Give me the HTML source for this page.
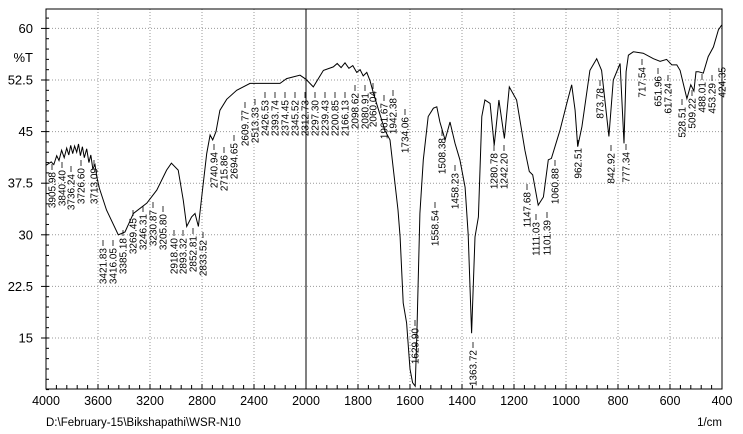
<!DOCTYPE html>
<html><head><meta charset="utf-8"><style>
body{margin:0;background:#fff}
svg{display:block;font-family:"Liberation Sans",Arial,sans-serif}
</style></head><body>
<svg id="chart" width="743" height="434" viewBox="0 0 743 434">
<g id="grid"></g>
<g id="axes"></g>
<g id="series"></g>
<g id="labels"></g>
<text x="33" y="62" font-size="13" text-anchor="end">%T</text>
<text x="46" y="426" font-size="11.5">D:\February-15\Bikshapathi\WSR-N10</text>
<text x="722" y="426" font-size="11.5" text-anchor="end">1/cm</text>
</svg>
<script>
const xTicks=[4000,3600,3200,2800,2400,2000,1800,1600,1400,1200,1000,800,600,400];
const yTicks=[60,52.5,45,37.5,30,22.5,15];
const yTickLabels=["60","52.5","45","37.5","30","22.5","15"];
const waves=[4000,3960,3940,3918,3900,3880,3860,3841,3825,3810,3795,3780,3764,3750,3735,3720,3705,3687,3670,3655,3640,3623,3610,3590,3535,3444,3392,3328,3225,3148,3072,3035,2983,2944,2918,2880,2854,2828,2802,2764,2738,2718,2692,2662,2610,2533,2431,2354,2200,2149,2046,2000,1972,1933,1895,1880,1865,1850,1835,1820,1805,1792,1780,1766,1754,1740,1697,1677,1646,1638,1626,1613,1600,1590,1580,1574,1562,1549,1530,1510,1497,1485,1465,1446,1427,1408,1388,1376,1363,1350,1337,1324,1312,1292,1276,1258,1237,1218,1190,1158,1141,1128,1107,1087,1068,1056,1023,997,978,965,955,939,908,882,863,835,818,792,777,769,760,741,703,664,638,613,593,574,561,535,520,508,500,491,472,453,433,414,401];
const trans=[40.1,40.6,40.2,41.5,40.8,42.3,41.2,42.6,41.6,43.0,41.8,42.9,42.0,43.2,41.5,42.8,41.2,42.5,40.5,41.6,39.6,40.2,38.5,36.8,33.6,30.0,30.4,33.1,34.6,36.5,39.4,40.4,39.4,35.0,31.2,32.6,33.1,31.2,35.5,41.8,44.5,43.8,45.0,48.1,49.7,51.0,52.0,52.0,52.0,52.7,53.2,52.6,51.5,53.9,54.4,54.9,54.3,55.0,54.2,54.6,53.6,54.0,53.1,53.6,52.4,50.5,45.2,43.8,33.6,29.7,20.1,17.2,10.5,8.5,8.0,15.2,33.1,40.9,47.2,48.4,48.6,46.4,43.8,46.4,43.3,40.9,36.9,30,15.7,29.7,32.6,47.2,49.6,49.1,43.0,49.6,44.0,51.5,49.6,42.3,39.2,38.7,34.3,35.5,40.9,41.1,45.2,49.1,51.8,48.1,42.8,45.7,53.9,55.6,53.9,44.3,52.5,54.9,43.3,53.7,56.1,56.6,56.4,55.6,55.2,55.5,54.7,54.7,53.9,49.8,51.8,50.9,53.7,53.7,53.5,55.9,57.3,59.8,60.5];
const peakNames=["3905.98","3840.40","3736.24","3726.60","3713.09","3421.83","3416.05","3385.18","3269.45","3246.31","3230.87","3205.80","2918.40","2893.32","2852.81","2833.52","2740.94","2715.86","2694.65","2609.77","2513.33","2426.53","2393.74","2374.45","2345.52","2312.73","2297.30","2239.43","2200.85","2166.13","2098.62","2080.91","2060.04","1961.67","1942.38","1734.06","1629.90","1558.54","1508.38","1458.23","1363.72","1280.78","1242.20","1147.68","1111.03","1101.39","1060.88","962.51","873.78","842.92","777.34","717.54","651.96","617.24","528.51","509.22","488.01","453.29","424.35"];
const peakTextX=[52,62,71,81,94,103,113,123,133,143,153,163,174,183,193,203,214,224,234,245,255,265,275,285,295,305,315,325,335,345,355,365,373,384,393,405,415,435,442,455,473,494,504,527,536,547,555,578,600,611,626,642,658,668,682,692,702,712,722];
const peakTextTop=[172,170,174,168,168,248,248,238,218,214,210,214,238,238,236,240,152,155,143,110,107,100,100,100,100,100,100,100,100,100,93,93,91,103,98,117,328,210,138,173,350,153,153,192,222,220,168,148,88,153,152,67,76,83,107,98,82,83,67];
const L=46,R=722,T=9,B=389;
function xs(w){return w>=2000?L+(4000-w)/400*52:306+(2000-w)/200*52;}
function ys(v){return 338-(v-15)/7.5*51.6;}
const NS="http://www.w3.org/2000/svg";
function mk(tag,attrs,parent){const e=document.createElementNS(NS,tag);for(const k in attrs)e.setAttribute(k,attrs[k]);parent.appendChild(e);return e;}
const grid=document.getElementById('grid'),axes=document.getElementById('axes'),series=document.getElementById('series'),labels=document.getElementById('labels');
xTicks.forEach((w,i)=>{const x=xs(w);
 if(i>0&&i<xTicks.length-1){const g=mk('line',{x1:x,x2:x,y1:T,y2:B,stroke:w===2000?'#000':'#999','stroke-width':1,'stroke-dasharray':w===2000?'none':'1,2'},grid);
 
 }
 const t=mk('text',{x:x,y:405,'font-size':12.5,'text-anchor':'middle'},axes);t.textContent=w;
 
 
 if(i<xTicks.length-1){const n=xTicks[i+1];for(let k=0;k<5;k++){const wx=w+(n-w)*k/5;const xx=xs(wx);mk('line',{x1:xx,x2:xx,y1:B,y2:B-(k==0?5:4),stroke:'#000'},axes);}}
});
yTicks.forEach((v,i)=>{const y=ys(v);
 const g=mk('line',{x1:L,x2:R,y1:y,y2:y,stroke:'#999','stroke-dasharray':'1,2'},grid);
 
 
 mk('line',{x1:L-5,x2:L,y1:y,y2:y,stroke:'#000'},axes);
 const t=mk('text',{x:33,y:y+4.5,'font-size':13,'text-anchor':'end'},axes);t.textContent=yTickLabels[i];
 
 
});
for(let v=7.5;v<62.8;v+=1.5){const y=ys(v);mk('line',{x1:L,x2:L+3,y1:y,y2:y,stroke:'#000'},axes);}
const fr=mk('rect',{x:L,y:T,width:R-L,height:B-T,fill:'none',stroke:'#000','stroke-width':1},axes);


const cp=mk('clipPath',{id:'cp'},series);
mk('rect',{x:L,y:T,width:R-L,height:B-T},cp);
let d='';waves.forEach((w,i)=>{d+=(i?'L':'M')+xs(w).toFixed(1)+','+ys(trans[i]).toFixed(1);});
const p=mk('path',{d:d,fill:'none',stroke:'#000','stroke-width':1,'clip-path':'url(#cp)'},series);


peakNames.forEach((nm,i)=>{const x=peakTextX[i],top=peakTextTop[i];
 const t=mk('text',{x:0,y:0,'font-size':10,'text-anchor':'end',transform:`translate(${x+3.5},${top}) rotate(-90)`},labels);t.textContent=nm;
 
 
 mk('line',{x1:x,x2:x,y1:top-2,y2:top-8,stroke:'#000','stroke-width':0.8},labels);
});
</script>
</body></html>
